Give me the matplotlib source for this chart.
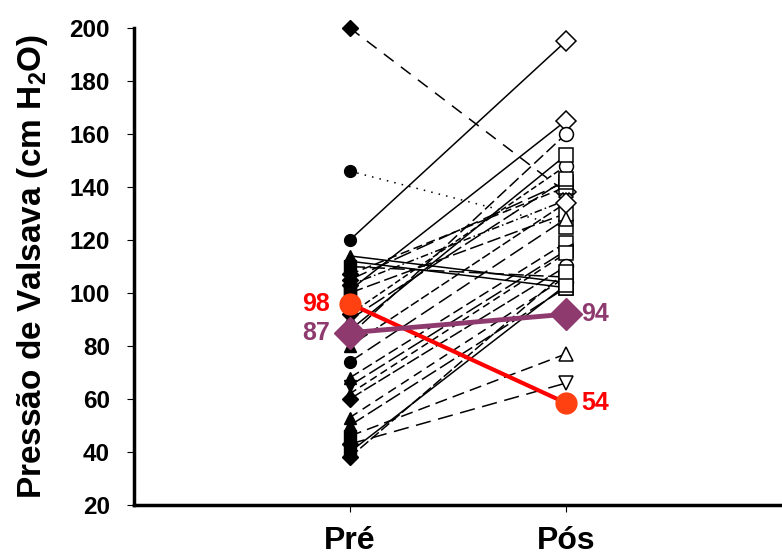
import matplotlib
matplotlib.use("Agg")
import matplotlib.pyplot as plt

plt.rcParams['font.family'] = ['Liberation Sans', 'DejaVu Sans']
plt.rcParams['font.weight'] = 'bold'
plt.rcParams['mathtext.fontset'] = 'custom'
plt.rcParams['mathtext.rm'] = 'Liberation Sans:bold'
plt.rcParams['mathtext.bf'] = 'Liberation Sans:bold'

# ---- data ----
groups = ["Pré", "Pós"]
pre_values = [200, 146, 120, 114, 112, 110, 107, 105, 103, 101, 100, 92, 90, 86,
              84, 80, 74, 68, 65, 62, 60, 53, 50, 46, 43, 40, 38]
post_values = [138, 125, 195, 104, 102, 106, 140, 142, 135, 165, 130, 148, 143, 152,
               160, 134, 128, 119, 116, 115, 110, 106, 102, 77, 66, 103, 108]
pre_markers = ["D", "o", "o", "^", "^", "s", "D", "D", "D", "s", "s", "D", "^", "D",
               "o", "^", "o", "^", "v", "^", "D", "^", "^", "s", "D", "s", "D"]
post_markers = ["D", "s", "D", "o", "s", "s", "s", "s", "X", "D", "s", "o", "s", "s",
                "o", "D", "^", "s", "<", "s", "o", "s", "s", "^", "v", "s", "s"]
line_styles = [(0, (8, 6)), (0, (1, 4)), "-", "-", "-", (0, (10, 3)), (0, (6, 3)),
               (0, (12, 4)), (0, (5, 2, 1, 2)), "-", (0, (9, 3)), (0, (4, 2)),
               (0, (12, 3)), "-", (0, (8, 3)), (0, (6, 2)), (0, (10, 4)),
               (0, (7, 3)), (0, (12, 3)), (0, (5, 3)), (0, (9, 2)), (0, (6, 4)),
               (0, (11, 3)), (0, (8, 4)), (0, (10, 5)), "-", (0, (7, 2))]

red_values = [96, 58.5]
red_labels = ["98", "54"]
purple_values = [85, 92]
purple_labels = ["87", "94"]

y_ticks = [20, 40, 60, 80, 100, 120, 140, 160, 180, 200]

# ---- figure ----
fig = plt.figure(figsize=(7.82, 5.57), dpi=100)
ax = fig.add_axes([0.171, 0.0934, 0.829, 0.8563])

xpos = [1, 2]
for i in range(len(pre_values)):
    ax.plot(xpos, [pre_values[i], post_values[i]], color="black", lw=1.1,
            linestyle=line_styles[i], zorder=2)
    ax.plot(xpos[0], pre_values[i], marker=pre_markers[i], color="black",
            markersize=8.5, markeredgewidth=1, zorder=3, clip_on=False)
    ax.plot(xpos[1], post_values[i], marker=post_markers[i], markerfacecolor="white",
            markeredgecolor="black", markersize=10, markeredgewidth=1.1, zorder=3,
            clip_on=False)

red = "#ff0000"
red_mk = "#ff4010"
purple = "#8e3a6e"
ax.plot(xpos, red_values, color=red, lw=3, zorder=5)
ax.plot(xpos, red_values, linestyle="none", marker="o", markersize=15,
        color=red_mk, zorder=6)
ax.plot(xpos, purple_values, color=purple, lw=3.5, zorder=5)
ax.plot(xpos, purple_values, linestyle="none", marker="D", markersize=16,
        color=purple, zorder=6)

lab_fs = 18
ax.text(xpos[0] - 0.09, red_values[0], red_labels[0], color=red, fontsize=lab_fs,
        fontweight="bold", ha="right", va="center")
ax.text(xpos[1] + 0.07, red_values[1], red_labels[1], color=red, fontsize=lab_fs,
        fontweight="bold", ha="left", va="center")
ax.text(xpos[0] - 0.09, purple_values[0], purple_labels[0], color=purple, fontsize=lab_fs,
        fontweight="bold", ha="right", va="center")
ax.text(xpos[1] + 0.07, purple_values[1], purple_labels[1], color=purple, fontsize=lab_fs,
        fontweight="bold", ha="left", va="center")

ax.set_xlim(0, 3)
ax.set_ylim(20, 200)
ax.set_xticks(xpos)
ax.set_xticklabels(groups, fontsize=23, fontweight="bold")
ax.set_yticks(y_ticks)
ax.set_yticklabels([str(t) for t in y_ticks], fontsize=17.5, fontweight="bold")
ax.tick_params(axis="y", direction="out", length=5, width=0.8, pad=12)
ax.tick_params(axis="x", direction="out", length=5, width=0.8, pad=10)

for s in ["top", "right"]:
    ax.spines[s].set_visible(False)
for s in ["left", "bottom"]:
    ax.spines[s].set_linewidth(2.5)

ax.set_ylabel("Pressão de Valsava (cm H$_\\mathregular{2}$O)", fontsize=24,
              fontweight="bold", labelpad=14)

fig.savefig("out.png", dpi=100)
